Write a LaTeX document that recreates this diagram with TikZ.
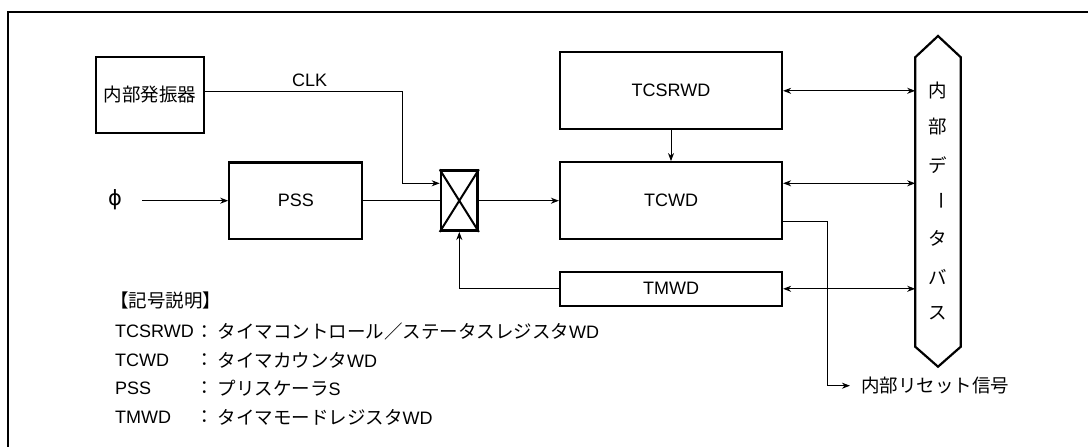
\documentclass[tikz,border=0pt]{standalone}
\usepackage{fontspec}
\setmainfont{Liberation Sans}
\newfontfamily\jpfam{Noto Sans CJK JP}
\newfontfamily\symfam{DejaVu Sans}
\usetikzlibrary{arrows.meta}
\newcommand\jpf{\jpfam\fontsize{18.5}{20}\selectfont}
\newcommand\latf{\fontsize{18}{21}\selectfont}
\begin{document}
\begin{tikzpicture}[x=1pt,y=-1pt,
  every node/.style={font=\latf, inner sep=0pt},
  blk/.style={draw, line width=2.2pt, fill=white},
  conn/.style={line width=1pt},
  arr/.style={conn, -{Stealth[length=8pt,width=6pt,inset=2.5pt]}},
  darr/.style={conn, {Stealth[length=8pt,width=6pt,inset=2.5pt]}-{Stealth[length=8pt,width=6pt,inset=2.5pt]}},
  jp/.style={font=\jpf}
]
\useasboundingbox (0,0) rectangle (1088,447);
% frame
\draw[line width=2pt] (8.3,447) -- (8.3,12) -- (1088,12);

% blocks
\node[blk, minimum width=108.3pt, minimum height=76.6pt, jp] (osc) at (149.9,95) {内部発振器};
\node[blk, minimum width=133pt, minimum height=76.6pt] (pss) at (295.8,200.7) {PSS};
\node[blk, line width=2.5pt, minimum width=36.7pt, minimum height=60pt] (mux) at (459.3,200.7) {};
\draw[line width=2pt] (mux.north west) -- (mux.south east) (mux.north east) -- (mux.south west);
\node[blk, minimum width=222pt, minimum height=77pt] (tcsr) at (671,90.8) {TCSRWD};
\node[blk, minimum width=222pt, minimum height=77pt] (tcwd) at (671,200.7) {TCWD};
\node[blk, minimum width=222pt, minimum height=34.3pt] (tmwd) at (671,288.8) {TMWD};

% bus
\draw[line width=2.2pt, line join=miter] (938,36) -- (960.8,57.3) -- (960.8,346.7) -- (938,366.7) -- (915.2,346.7) -- (915.2,57.3) -- cycle;
\coordinate (busL) at (915.2,0);
\node[jp] (b1) at (938,90) {内};
\node[jp] (b2) at (938,126.7) {部};
\node[jp] (b3) at (938,165) {デ};
\node[jp, rotate=-90] (b4) at (938,201) {ー};
\node[jp] (b5) at (938,238.3) {タ};
\node[jp] (b6) at (938,276.7) {バ};
\node[jp] (b7) at (938,313.3) {ス};

% labels
\node (clk) at (309.6,80.5) {CLK};
\node[font=\symfam\fontsize{21}{24}\selectfont] (phi) at (115,200) {ϕ};
\node[jp, anchor=west] (reset) at (861,385.7) {内部リセット信号};

% connectors
\coordinate (clkbend) at (402.3,183.3);
\draw[arr] ([yshift=4pt]osc.east) -| (clkbend) -- ([yshift=17.4pt]mux.west);
\draw[arr] (142,200.7) -- (pss.west);
\draw[conn] (pss.east) -- (mux.west);
\draw[arr] (mux.east) -- (tcwd.west);
\draw[arr] (tcsr.south) -- (tcwd.north);
\draw[arr] (tmwd.west) -| (mux.south);
\draw[darr] (tcsr.east) -- (tcsr.east -| busL);
\coordinate (tcwdbus) at ([yshift=17.4pt]tcwd.east);
\draw[darr] (tcwdbus) -- (tcwdbus -| busL);
\draw[darr] (tmwd.east) -- (tmwd.east -| busL);
\coordinate (rstart) at ([yshift=-21pt]tcwd.east);
\coordinate (rbend) at (827.5,385.7);
\draw[arr] (rstart) -| (rbend) -- ([xshift=-11pt]reset.west);

% legend
\node[jp, anchor=west] (lgtitle) at (110,300) {【記号説明】};
\node[anchor=west] (l1) at (115,331.7) {TCSRWD};
\node[jp] (c1) at (204.5,331.7) {：};
\node[anchor=west] (d1) at (217.5,331.7) {{\jpf タイマコントロール／ステータスレジスタ}WD};
\node[anchor=west] (l2) at (115,360) {TCWD};
\node[jp] (c2) at (204.5,360) {：};
\node[anchor=west] (d2) at (217.5,360) {{\jpf タイマカウンタ}WD};
\node[anchor=west] (l3) at (115,388.3) {PSS};
\node[jp] (c3) at (204.5,388.3) {：};
\node[anchor=west] (d3) at (217.5,388.3) {{\jpf プリスケーラ}S};
\node[anchor=west] (l4) at (115,417) {TMWD};
\node[jp] (c4) at (204.5,417) {：};
\node[anchor=west] (d4) at (217.5,417) {{\jpf タイマモードレジスタ}WD};
\end{tikzpicture}
\end{document}
